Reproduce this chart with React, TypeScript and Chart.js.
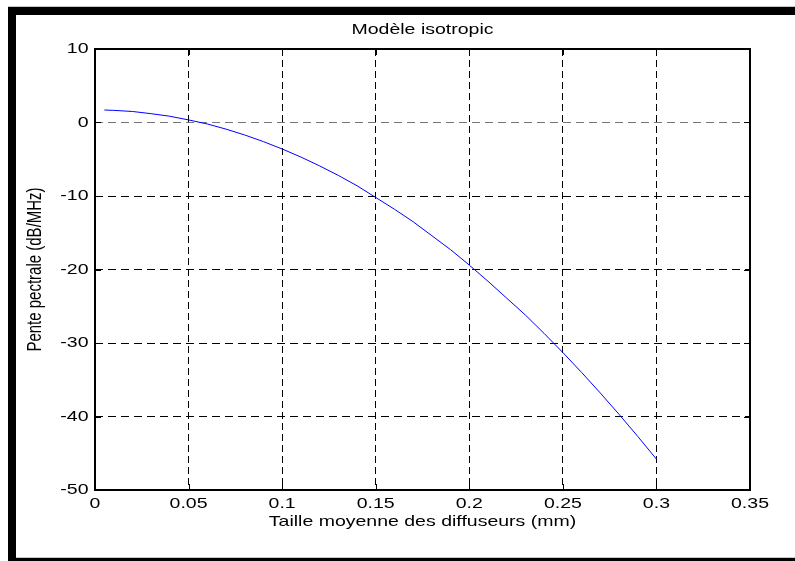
import React, { useEffect, useRef } from 'react';
import { Chart, registerables } from 'chart.js';

Chart.register(...registerables);

const chartTitle = 'Modèle isotropic';
const xAxisTitle = 'Taille moyenne des diffuseurs (mm)';
const yAxisTitle = 'Pente pectrale (dB/MHz)';

const sizes = [0.005, 0.01, 0.02, 0.03, 0.04, 0.05, 0.06, 0.07, 0.08, 0.09, 0.1, 0.11, 0.12, 0.13, 0.14, 0.15, 0.16, 0.17, 0.18, 0.19, 0.2, 0.21, 0.22, 0.23, 0.24, 0.25, 0.26, 0.27, 0.28, 0.29, 0.3];
const slopes = [1.7, 1.65, 1.5, 1.2, 0.85, 0.35, -0.2, -0.9, -1.7, -2.6, -3.6, -4.7, -5.9, -7.2, -8.6, -10.2, -11.8, -13.5, -15.4, -17.3, -19.4, -21.6, -23.9, -26.2, -28.7, -31.3, -34.0, -36.8, -39.7, -42.7, -45.8];

const xTickValues = [0, 0.05, 0.1, 0.15, 0.2, 0.25, 0.3, 0.35];
const xTickLabels = ['0', '0.05', '0.1', '0.15', '0.2', '0.25', '0.3', '0.35'];
const yTickValues = [-50, -40, -30, -20, -10, 0, 10];
const yTickLabels = ['-50', '-40', '-30', '-20', '-10', '0', '10'];

const W = 795;
const H = 561;
const STRETCH = 1.3;
const FONT = "'Liberation Sans', Arial, Helvetica, sans-serif";
const FS = 15;

function labelFor(values: number[], labels: string[], v: number) {
  const i = values.findIndex((t) => Math.abs(t - v) < 1e-9);
  return i >= 0 ? labels[i] : '';
}

// Text in the reference is horizontally widened; stretch glyphs in screen space around their anchor.
const wideTextPlugin = {
  id: 'wideText',
  beforeDraw(chart: any) {
    const ctx = chart.ctx;
    if (ctx.__wide) return;
    const orig = ctx.fillText.bind(ctx);
    ctx.fillText = (t: string, x: number, y: number, mw?: number) => {
      const m = ctx.getTransform();
      const p = m.transformPoint(new DOMPoint(x, y));
      ctx.save();
      ctx.setTransform(
        new DOMMatrix().translate(p.x, p.y).scale(STRETCH, 1).translate(-p.x, -p.y).multiply(m)
      );
      if (mw === undefined) orig(t, x, y);
      else orig(t, x, y, mw);
      ctx.restore();
    };
    ctx.__wide = true;
  },
};

const framePlugin = {
  id: 'matlabFrame',
  beforeDraw(chart: any) {
    const ctx = chart.ctx;
    ctx.save();
    ctx.fillStyle = '#c8c8c8';
    ctx.fillRect(8, 6, W, 1);
    ctx.fillRect(8, 557, W, 1);
    ctx.fillStyle = '#000';
    ctx.fillRect(8, 7, W, 8);
    ctx.fillRect(8, 7, 8, H - 7);
    ctx.fillRect(8, 558, W, 3);
    ctx.restore();
  },
  afterDatasetsDraw(chart: any) {
    const { ctx, chartArea } = chart;
    const xs = chart.scales.x;
    const ys = chart.scales.y;
    const { left, right, top, bottom } = chartArea;
    ctx.save();
    ctx.strokeStyle = '#000';
    ctx.lineWidth = 1;
    const tl = 6;
    ctx.beginPath();
    xTickValues.slice(1, -1).forEach((v) => {
      const px = Math.round(xs.getPixelForValue(v)) + 0.5;
      ctx.moveTo(px, bottom);
      ctx.lineTo(px, bottom - tl);
      ctx.moveTo(px, top);
      ctx.lineTo(px, top + tl);
    });
    yTickValues.slice(1, -1).forEach((v) => {
      const py = Math.round(ys.getPixelForValue(v)) + 0.5;
      ctx.moveTo(left, py);
      ctx.lineTo(left + tl, py);
      ctx.moveTo(right, py);
      ctx.lineTo(right - tl, py);
    });
    ctx.stroke();
    ctx.lineWidth = 2;
    ctx.strokeRect(left, top, right - left, bottom - top);
    ctx.restore();
  },
};

export default function App() {
  const canvasRef = useRef<HTMLCanvasElement | null>(null);

  useEffect(() => {
    const canvas = canvasRef.current;
    if (!canvas) return;
    const points = sizes.map((x, i) => ({ x, y: slopes[i] }));
    const chart = new Chart(canvas, {
      type: 'line',
      data: {
        datasets: [
          {
            data: points,
            borderColor: '#0000ff',
            borderWidth: 1,
            pointRadius: 0,
            tension: 0,
            fill: false,
          },
        ],
      },
      options: {
        animation: false,
        responsive: false,
        devicePixelRatio: 1,
        layout: { padding: { left: 0, right: W - 750, top: 0, bottom: 0 } },
        plugins: {
          legend: { display: false },
          tooltip: { enabled: false },
          title: {
            display: true,
            fullSize: false,
            text: chartTitle,
            color: '#000',
            font: { family: FONT, size: FS, weight: 'normal', lineHeight: 1.2 },
            padding: { top: 21, bottom: 10 },
          },
        },
        scales: {
          x: {
            type: 'linear',
            min: 0,
            max: 0.35,
            afterFit: (scale: any) => {
              scale.height = 71;
            },
            afterBuildTicks: (scale: any) => {
              scale.ticks = xTickValues.map((v) => ({ value: v }));
            },
            ticks: {
              color: '#000',
              font: { family: FONT, size: FS, lineHeight: 1.2 },
              padding: 5,
              maxRotation: 0,
              autoSkip: false,
              callback: (v: any) => labelFor(xTickValues, xTickLabels, Number(v)),
            },
            grid: {
              drawTicks: false,
              lineWidth: 1,
              color: (c: any) =>
                c.tick && (Math.abs(c.tick.value) < 1e-9 || Math.abs(c.tick.value - 0.35) < 1e-9)
                  ? 'rgba(0,0,0,0)'
                  : '#000',
            },
            border: { display: false, dash: [7, 4] },
            title: {
              display: true,
              text: xAxisTitle,
              color: '#000',
              font: { family: FONT, size: FS, lineHeight: 1.2 },
              padding: { top: 0, bottom: 30 },
            },
          },
          y: {
            type: 'linear',
            min: -50,
            max: 10,
            afterFit: (scale: any) => {
              scale.width = 95;
            },
            afterBuildTicks: (scale: any) => {
              scale.ticks = yTickValues.map((v) => ({ value: v }));
            },
            ticks: {
              color: '#000',
              font: { family: FONT, size: FS, lineHeight: 1.2 },
              padding: 6.5,
              autoSkip: false,
              callback: (v: any) => labelFor(yTickValues, yTickLabels, Number(v)),
            },
            grid: {
              drawTicks: false,
              lineWidth: 1,
              color: (c: any) => {
                if (!c.tick) return '#000';
                const v = c.tick.value;
                if (v === -50 || v === 10) return 'rgba(0,0,0,0)';
                if (v === 0) return '#777';
                return '#000';
              },
            },
            border: { display: false, dash: [8, 5] },
            title: {
              display: true,
              text: yAxisTitle,
              color: '#000',
              font: { family: FONT, size: FS, lineHeight: 1.2 },
              padding: { top: 27, bottom: 0 },
            },
          },
        },
      },
      plugins: [wideTextPlugin, framePlugin],
    } as any);
    return () => chart.destroy();
  }, []);

  return (
    <div
      style={{
        position: 'absolute',
        left: 0,
        top: 0,
        width: W,
        height: H,
        background: '#fff',
      }}
    >
      <canvas ref={canvasRef} width={W} height={H} style={{ display: 'block', width: W, height: H }} />
    </div>
  );
}
